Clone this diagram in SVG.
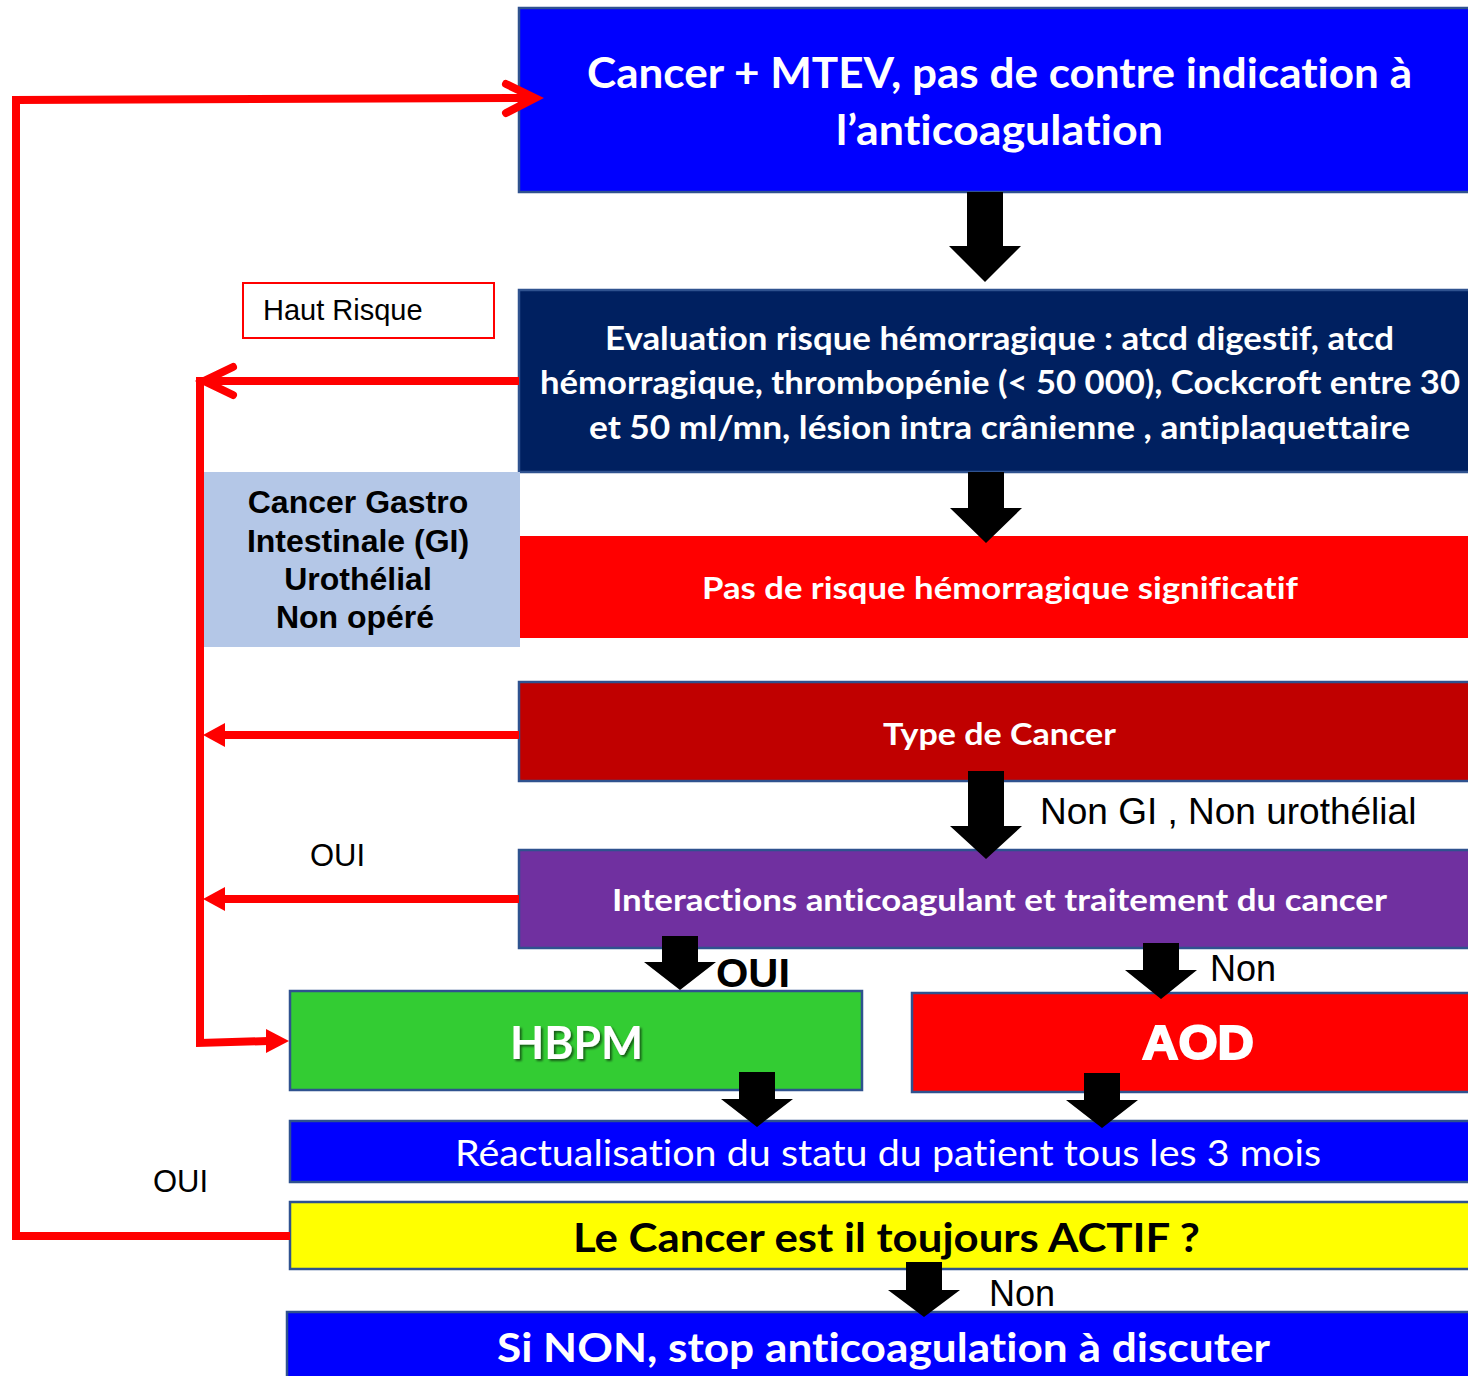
<svg xmlns="http://www.w3.org/2000/svg" width="1468" height="1376" viewBox="0 0 1468 1376">
  <defs>
    <style>
      text { font-variant-ligatures: none; }
      .box { stroke: #2F528F; stroke-width: 2.5; }
      .wt { fill: #FFFFFF; font-family: Lato, "Open Sans", sans-serif; font-weight: 700; text-anchor: middle; }
      .lbl { fill: #000000; font-family: "Liberation Sans", Arial, sans-serif; }
      .blk { fill: #000000; }
      .red { fill: none; stroke: #FF0000; stroke-width: 8; }
      .redhead { fill: #FF0000; }
    </style>
    <filter id="shadow" x="-10%" y="-20%" width="130%" height="150%">
      <feDropShadow dx="2" dy="2" stdDeviation="1.2" flood-color="#000000" flood-opacity="0.55"/>
    </filter>
  </defs>

  <rect width="1468" height="1376" fill="#FFFFFF"/>

  <!-- Nodes -->
  <g id="start">
    <rect class="box" x="519" y="8" width="960" height="184" fill="#0000FF"/>
    <text class="wt" x="999.5" y="88" font-size="42" textLength="825" lengthAdjust="spacingAndGlyphs">Cancer + MTEV, pas de contre indication à</text>
    <text class="wt" x="999.5" y="145" font-size="42" textLength="327" lengthAdjust="spacingAndGlyphs">l’anticoagulation</text>
  </g>

  <g id="haut-risque">
    <rect x="243" y="283" width="251" height="55" fill="#FFFFFF" stroke="#FF0000" stroke-width="2"/>
    <text class="lbl" x="263" y="320" font-size="29">Haut Risque</text>
  </g>

  <g id="evaluation">
    <rect class="box" x="519" y="290" width="960" height="182" fill="#002060"/>
    <text class="wt" x="999.5" y="350" font-size="32" textLength="789" lengthAdjust="spacingAndGlyphs">Evaluation risque hémorragique : atcd digestif, atcd</text>
    <text class="wt" x="1000" y="394" font-size="32" textLength="920" lengthAdjust="spacingAndGlyphs">hémorragique, thrombopénie (&lt; 50 000), Cockcroft entre 30</text>
    <text class="wt" x="999.5" y="439" font-size="32" textLength="821" lengthAdjust="spacingAndGlyphs">et 50 ml/mn, lésion intra crânienne , antiplaquettaire</text>
  </g>

  <g id="cancer-gi">
    <rect x="204" y="472" width="316" height="175" fill="#B4C7E7"/>
    <g class="lbl" font-size="32" font-weight="700" text-anchor="middle">
      <text x="358" y="513">Cancer Gastro</text>
      <text x="358" y="552">Intestinale (GI)</text>
      <text x="358" y="590">Urothélial</text>
      <text x="355" y="628">Non opéré</text>
    </g>
  </g>

  <g id="pas-de-risque">
    <rect x="520" y="536" width="960" height="102" fill="#FF0000"/>
    <text class="wt" x="1000" y="599" font-size="31" textLength="596" lengthAdjust="spacingAndGlyphs">Pas de risque hémorragique significatif</text>
  </g>

  <g id="type-cancer">
    <rect class="box" x="519" y="682" width="960" height="99" fill="#C00000"/>
    <text class="wt" x="999.5" y="745" font-size="31" textLength="233" lengthAdjust="spacingAndGlyphs">Type de Cancer</text>
  </g>

  <g id="interactions">
    <rect class="box" x="519" y="850" width="960" height="98" fill="#7030A0"/>
    <text class="wt" x="999.5" y="911" font-size="31" textLength="775" lengthAdjust="spacingAndGlyphs">Interactions anticoagulant et traitement du cancer</text>
  </g>

  <g id="hbpm">
    <rect class="box" x="290" y="991" width="572" height="99" fill="#33CC33"/>
    <text class="wt" x="576.5" y="1059" font-size="46" textLength="133" lengthAdjust="spacingAndGlyphs" filter="url(#shadow)">HBPM</text>
  </g>

  <g id="aod">
    <rect class="box" x="912" y="993" width="570" height="99" fill="#FF0000"/>
    <text x="1198" y="1059" font-size="48" font-family="'Liberation Sans', Arial, sans-serif" font-weight="900" fill="#FFFFFF" stroke="#FFFFFF" stroke-width="2" text-anchor="middle" textLength="112" lengthAdjust="spacingAndGlyphs">AOD</text>
  </g>

  <g id="reactualisation">
    <rect class="box" x="290" y="1121" width="1190" height="61" fill="#0000FF"/>
    <text x="888" y="1166" font-size="36" font-family="Lato, 'Open Sans', sans-serif" fill="#FFFFFF" text-anchor="middle" textLength="866" lengthAdjust="spacingAndGlyphs">Réactualisation du statu du patient tous les 3 mois</text>
  </g>

  <g id="toujours-actif">
    <rect class="box" x="290" y="1202" width="1190" height="67" fill="#FFFF00"/>
    <text x="886.5" y="1252" font-size="40" font-family="Lato, 'Open Sans', sans-serif" font-weight="700" fill="#000000" text-anchor="middle" textLength="627" lengthAdjust="spacingAndGlyphs">Le Cancer est il toujours ACTIF ?</text>
  </g>

  <g id="stop">
    <rect class="box" x="287" y="1312" width="1193" height="80" fill="#0000FF"/>
    <text class="wt" x="883.5" y="1362" font-size="40" textLength="773" lengthAdjust="spacingAndGlyphs">Si NON, stop anticoagulation à discuter</text>
  </g>

  <!-- Connectors -->
  <g id="connectors">
    <!-- feedback loops -->
    <path class="red" d="M290,1236 L16,1236 L16,100 L532,98"/>
    <path class="red" d="M506,84 L535,98 L506,113" stroke-linecap="round" stroke-linejoin="miter"/>

    <path class="red" d="M519,381 L200,381 L200,1043 L268,1041"/>
    <path class="red" d="M233,367 L204,381 L233,395" stroke-linecap="round"/>
    <polygon class="redhead" points="289,1041 266,1029 266,1053"/>

    <path class="red" d="M519,735 L220,735"/>
    <polygon class="redhead" points="203,735 225,723 225,747"/>
    <path class="red" d="M519,899 L220,899"/>
    <polygon class="redhead" points="203,899 225,887 225,911"/>

    <!-- block arrows -->
    <polygon class="blk" points="967,192 1003,192 1003,246 1021,246 985,282 949,246 967,246"/>
    <polygon class="blk" points="968,472 1004,472 1004,508 1022,508 986,543 950,508 968,508"/>
    <polygon class="blk" points="968,771 1004,771 1004,826 1022,826 986,859 950,826 968,826"/>
    <polygon class="blk" points="662,936 698,936 698,962 716,962 680,990 644,962 662,962"/>
    <polygon class="blk" points="1143,943 1179,943 1179,970 1197,970 1161,999 1125,970 1143,970"/>
    <polygon class="blk" points="739,1072 775,1072 775,1099 793,1099 757,1127 721,1099 739,1099"/>
    <polygon class="blk" points="1084,1073 1120,1073 1120,1100 1138,1100 1102,1128 1066,1100 1084,1100"/>
    <polygon class="blk" points="906,1262 942,1262 942,1290 960,1290 924,1317 888,1290 906,1290"/>

    <!-- branch labels -->
    <text class="lbl" x="1040" y="824" font-size="37">Non GI , Non urothélial</text>
    <text class="lbl" x="310" y="866" font-size="31">OUI</text>
    <text class="lbl" x="716" y="987" font-size="40" font-weight="700" textLength="74" lengthAdjust="spacingAndGlyphs">OUI</text>
    <text class="lbl" x="1210" y="981" font-size="36">Non</text>
    <text class="lbl" x="153" y="1192" font-size="31">OUI</text>
    <text class="lbl" x="989" y="1306" font-size="36">Non</text>
  </g>
</svg>
